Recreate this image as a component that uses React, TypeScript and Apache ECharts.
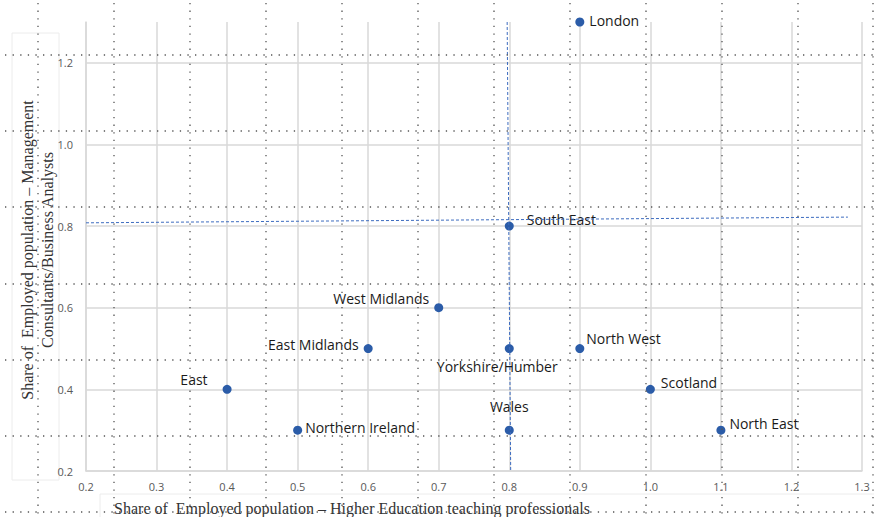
import React, { useEffect, useRef } from "react";
import * as echarts from "echarts";

const regions = ["London", "South East", "West Midlands", "East Midlands", "Yorkshire/Humber", "North West", "East", "Scotland", "Northern Ireland", "Wales", "North East"];
const higherEdShare = [0.9, 0.8, 0.7, 0.6, 0.8, 0.9, 0.4, 1.0, 0.5, 0.8, 1.1];
const consultantShare = [1.3, 0.8, 0.6, 0.5, 0.5, 0.5, 0.4, 0.4, 0.3, 0.3, 0.3];
const xTitle = "Share of  Employed population – Higher Education teaching professionals";
const yTitle = "Share of  Employed population – Management\nConsultants/Business Analysts";
// mean reference lines (dashed)
const vLine = [[0.797, 1.3], [0.802, 0.2]];
const hLine = [[0.2, 0.808], [1.28, 0.822]];

const labelPlacement: Record<string, any> = {
  London: { position: "right", distance: 5, offset: [0, -2] },
  "South East": { position: "right", distance: 13, offset: [0, -7] },
  "West Midlands": { position: "left", distance: 5, offset: [0, -9] },
  "East Midlands": { position: "left", distance: 5, offset: [0, -4] },
  "Yorkshire/Humber": { position: "bottom", distance: 6, offset: [-12, 0] },
  "North West": { position: "right", distance: 2, offset: [0, -10] },
  East: { position: "left", distance: 15, offset: [0, -10] },
  Scotland: { position: "right", distance: 6, offset: [0, -7] },
  "Northern Ireland": { position: "right", distance: 3, offset: [0, -3] },
  Wales: { position: "top", distance: 12, offset: [0, 0] },
  "North East": { position: "right", distance: 4, offset: [0, -7] },
};

export default function App() {
  const ref = useRef<HTMLDivElement>(null);
  useEffect(() => {
    if (!ref.current) return;
    const chart = echarts.init(ref.current, null, { renderer: "svg" });
    const dotted: any[] = [];
    const hs = [55, 131, 207, 284, 360, 436, 512];
    const vs = [38, 114, 190, 266, 342, 418, 494, 570, 646, 722, 798, 873];
    const dotStyle = { stroke: "#555555", lineWidth: 1.3, lineDash: [1.3, 6.3] };
    hs.forEach((y) =>
      dotted.push({
        type: "line",
        z: 50,
        silent: true,
        shape: { x1: 5, y1: y, x2: 874, y2: y },
        style: dotStyle,
      })
    );
    vs.forEach((x) =>
      dotted.push({
        type: "line",
        z: 50,
        silent: true,
        shape: { x1: x, y1: 3, x2: x, y2: 517 },
        style: dotStyle,
      })
    );
    const data = regions.map((name, i) => ({
      name,
      value: [higherEdShare[i], consultantShare[i]],
      label: labelPlacement[name],
    }));
    chart.setOption({
      animation: false,
      backgroundColor: "#ffffff",
      grid: { left: 86, right: 12, top: 22, bottom: 46 },
      xAxis: {
        type: "value",
        min: 0.2,
        max: 1.3,
        interval: 0.1,
        axisLine: { show: true, lineStyle: { color: "#d9d9d9", width: 1.5 } },
        axisTick: { show: false },
        axisLabel: {
          color: "#595959",
          fontSize: 11,
          fontFamily: "Open Sans",
          margin: 10,
          formatter: (v: number) => v.toFixed(1),
        },
        splitLine: { show: true, lineStyle: { color: "#d9d9d9", width: 1.5 } },
      },
      yAxis: {
        type: "value",
        min: 0.2,
        max: 1.3,
        interval: 0.2,
        axisLine: { show: true, lineStyle: { color: "#d9d9d9", width: 1.5 } },
        axisTick: { show: false },
        axisLabel: {
          color: "#595959",
          fontSize: 11,
          fontFamily: "Open Sans",
          margin: 13,
          showMaxLabel: false,
          formatter: (v: number) => v.toFixed(1),
        },
        splitLine: { show: true, showMaxLine: false, lineStyle: { color: "#d9d9d9", width: 1.5 } },
      },
      graphic: [
        {
          type: "rect",
          silent: true,
          shape: { x: 12, y: 33, width: 47, height: 447 },
          style: { fill: "none", stroke: "#ececec", lineWidth: 1 },
        },
        {
          type: "rect",
          silent: true,
          shape: { x: 100, y: 494, width: 790, height: 40 },
          style: { fill: "none", stroke: "#ececec", lineWidth: 1 },
        },
        {
          type: "text",
          x: 352,
          y: 508,
          style: {
            text: xTitle,
            font: '16px "Liberation Serif"',
            fill: "#333",
            textAlign: "center",
            textVerticalAlign: "middle",
          },
        },
        {
          type: "text",
          x: 37,
          y: 250,
          rotation: Math.PI / 2,
          style: {
            text: yTitle,
            font: '16px "Liberation Serif"',
            fill: "#333",
            textAlign: "center",
            textVerticalAlign: "middle",
            lineHeight: 20,
          },
        },
        ...dotted,
      ],
      series: [
        {
          type: "scatter",
          clip: false,
          symbolSize: 9,
          itemStyle: { color: "#2b5ca8", opacity: 1 },
          label: {
            show: true,
            formatter: "{b}",
            color: "#1a1a1a",
            fontSize: 14,
            fontFamily: "Open Sans",
          },
          data,
          markLine: {
            silent: true,
            symbol: "none",
            label: { show: false },
            lineStyle: { color: "#3d6cc0", type: [3, 2], width: 1 },
            data: [
              [{ coord: vLine[0] }, { coord: vLine[1] }],
              [{ coord: hLine[0] }, { coord: hLine[1] }],
            ],
          },
        },
      ],
    });
    return () => chart.dispose();
  }, []);
  return <div ref={ref} style={{ position: "fixed", left: 0, top: 0, width: 874, height: 517 }} />;
}
